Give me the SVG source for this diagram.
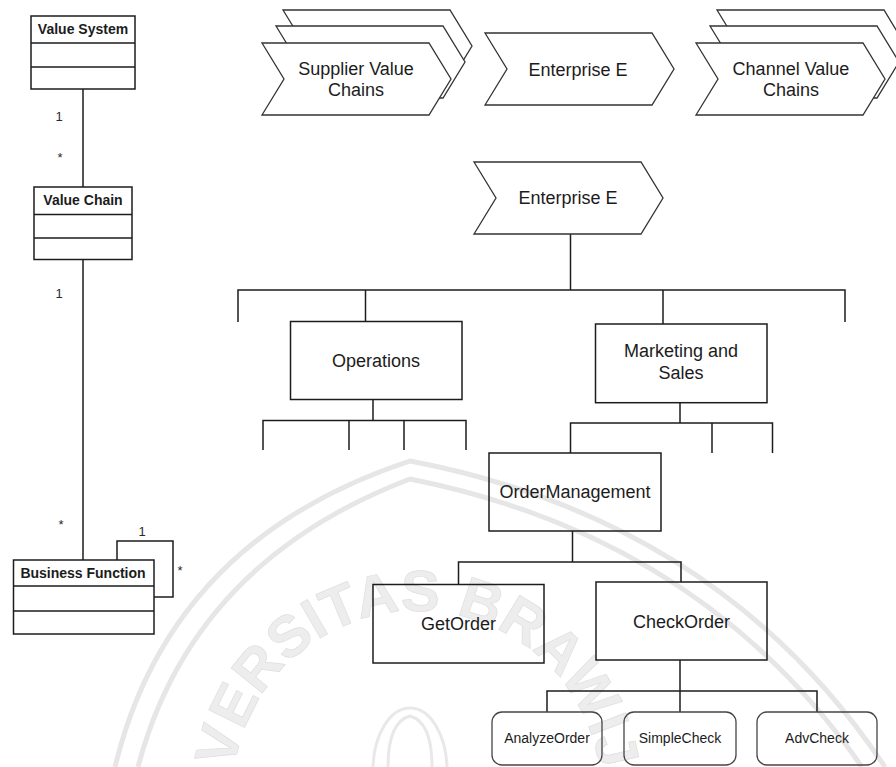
<svg xmlns="http://www.w3.org/2000/svg" xmlns:xlink="http://www.w3.org/1999/xlink" width="896" height="767" viewBox="0 0 896 767">
  <style>
    text { font-family: "Liberation Sans", Arial, Helvetica, sans-serif; fill: #1c1c1c; }
    .lbl { font-size: 18px; text-anchor: middle; }
    .sm { font-size: 14px; text-anchor: middle; }
    .uml { font-size: 14px; font-weight: bold; text-anchor: middle; }
    .mult { font-size: 13px; fill: #2a2a2a; text-anchor: middle; }
    .box { fill: none; stroke: #1c1c1c; stroke-width: 1.5; }
    .rbox { fill: none; stroke: #454545; stroke-width: 1.3; }
    .chev { fill: #fff; stroke: #333; stroke-width: 1.3; stroke-linejoin: miter; }
    .ln { fill: none; stroke: #1c1c1c; stroke-width: 1.5; }
    .wm { fill: none; stroke: #e6e6e6; stroke-width: 5; }
    .wmt { font-size: 58px; font-weight: bold; fill: #ededed; stroke: #dedede; stroke-width: 0.7; }
  </style>
  <defs>
    <!-- value-chain chevron: flat top/bottom, notch on the left, point on the right -->
    <path id="chev" d="M0,0 H167 L189,36 L167,72 H0 L22,36 Z"/>
    <path id="wmArc" d="M319,952.9 A185,185 0 1 1 503.8,959.3"/>
  </defs>

  <rect width="896" height="767" fill="#fff"/>

  <!-- background seal -->
  <g id="seal">
    <path class="wm" d="M115,767 Q170,540 410,461 Q720,520 885,767"/>
    <path class="wm" d="M138,767 Q192,562 410,479 Q702,537 862,767"/>
    <text class="wmt"><textPath xlink:href="#wmArc" href="#wmArc" startOffset="50%" text-anchor="middle">UNIVERSITAS BRAWIJAYA</textPath></text>
    <ellipse cx="410" cy="770" rx="37" ry="62" fill="none" stroke="#e8e8e8" stroke-width="3"/>
    <path d="M388,767 Q388,722 410,716 Q432,722 432,767" fill="none" stroke="#e8e8e8" stroke-width="3"/>
  </g>

  <!-- connectors -->
  <g id="connectors">
    <!-- UML associations -->
    <path class="ln" d="M83,89 V187"/>
    <path class="ln" d="M83,259.5 V560"/>
    <path class="ln" d="M117,560 V541 H173 V597 H154"/>
    <!-- Enterprise E decomposition -->
    <path class="ln" d="M570.5,234 V290"/>
    <path class="ln" d="M238,322 V290 H845 V322"/>
    <path class="ln" d="M365.5,290 V321.5"/>
    <path class="ln" d="M663,290 V324"/>
    <!-- Operations -->
    <path class="ln" d="M373,399.5 V420.5"/>
    <path class="ln" d="M263,450 V420.5 H466 V450"/>
    <path class="ln" d="M349,420.5 V450 M404,420.5 V450"/>
    <!-- Marketing and Sales -->
    <path class="ln" d="M680,402.7 V423"/>
    <path class="ln" d="M570.5,453 V423 H772.5 V453"/>
    <path class="ln" d="M712,423 V453"/>
    <!-- OrderManagement -->
    <path class="ln" d="M572.5,531 V562"/>
    <path class="ln" d="M458.5,584.5 V562 H681 V582"/>
    <!-- CheckOrder -->
    <path class="ln" d="M680,660 V691"/>
    <path class="ln" d="M547,712 V691 H817 V712"/>
    <path class="ln" d="M680,691 V712"/>
  </g>

  <!-- UML classes -->
  <g id="value-system">
    <rect class="box" x="31" y="16" width="104" height="73"/>
    <path class="ln" d="M31,43 H135 M31,67 H135"/>
    <text class="uml" x="83" y="34">Value System</text>
  </g>
  <g id="value-chain">
    <rect class="box" x="34" y="187" width="98" height="72.5"/>
    <path class="ln" d="M34,214.5 H132 M34,238 H132"/>
    <text class="uml" x="83" y="205">Value Chain</text>
  </g>
  <g id="business-function">
    <rect class="box" x="13.5" y="560" width="140.5" height="74"/>
    <path class="ln" d="M13.5,586 H154 M13.5,611 H154"/>
    <text class="uml" x="83" y="578">Business Function</text>
  </g>
  <g id="multiplicities">
    <text class="mult" x="59" y="121">1</text>
    <text class="mult" x="60" y="162">*</text>
    <text class="mult" x="59" y="298">1</text>
    <text class="mult" x="61" y="529">*</text>
    <text class="mult" x="142" y="536">1</text>
    <text class="mult" x="180" y="575">*</text>
  </g>

  <!-- value system chevrons -->
  <g id="supplier-value-chains">
    <use href="#chev" xlink:href="#chev" class="chev" x="283" y="10"/>
    <use href="#chev" xlink:href="#chev" class="chev" x="276" y="26"/>
    <use href="#chev" xlink:href="#chev" class="chev" x="262" y="43"/>
    <text class="lbl" x="356" y="75">Supplier Value</text>
    <text class="lbl" x="356" y="96">Chains</text>
  </g>
  <g id="enterprise-e-top">
    <use href="#chev" xlink:href="#chev" class="chev" x="485" y="33"/>
    <text class="lbl" x="578" y="76">Enterprise E</text>
  </g>
  <g id="channel-value-chains">
    <use href="#chev" xlink:href="#chev" class="chev" x="717" y="10"/>
    <use href="#chev" xlink:href="#chev" class="chev" x="710" y="26"/>
    <use href="#chev" xlink:href="#chev" class="chev" x="696" y="43"/>
    <text class="lbl" x="791" y="75">Channel Value</text>
    <text class="lbl" x="791" y="96">Chains</text>
  </g>

  <!-- functional decomposition -->
  <g id="enterprise-e">
    <use href="#chev" xlink:href="#chev" class="chev" x="474" y="162"/>
    <text class="lbl" x="568" y="204">Enterprise E</text>
  </g>
  <g id="operations">
    <rect class="box" x="290.5" y="321.5" width="171.5" height="78"/>
    <text class="lbl" x="376" y="367">Operations</text>
  </g>
  <g id="marketing-and-sales">
    <rect class="box" x="595.5" y="324" width="171.5" height="78.7"/>
    <text class="lbl" x="681" y="357">Marketing and</text>
    <text class="lbl" x="681" y="379">Sales</text>
  </g>
  <g id="order-management">
    <rect class="box" x="489" y="453" width="172" height="78"/>
    <text class="lbl" x="575" y="498">OrderManagement</text>
  </g>
  <g id="get-order">
    <rect class="box" x="373" y="584.5" width="171" height="78.5"/>
    <text class="lbl" x="458.5" y="630">GetOrder</text>
  </g>
  <g id="check-order">
    <rect class="box" x="596" y="582" width="171" height="78"/>
    <text class="lbl" x="681.5" y="627.5">CheckOrder</text>
  </g>
  <g id="analyze-order">
    <rect class="rbox" x="492" y="712" width="110" height="53" rx="10"/>
    <text class="sm" x="547" y="743">AnalyzeOrder</text>
  </g>
  <g id="simple-check">
    <rect class="rbox" x="624" y="712" width="112" height="53" rx="10"/>
    <text class="sm" x="680" y="743">SimpleCheck</text>
  </g>
  <g id="adv-check">
    <rect class="rbox" x="757" y="712" width="120" height="53" rx="10"/>
    <text class="sm" x="817" y="743">AdvCheck</text>
  </g>
</svg>
